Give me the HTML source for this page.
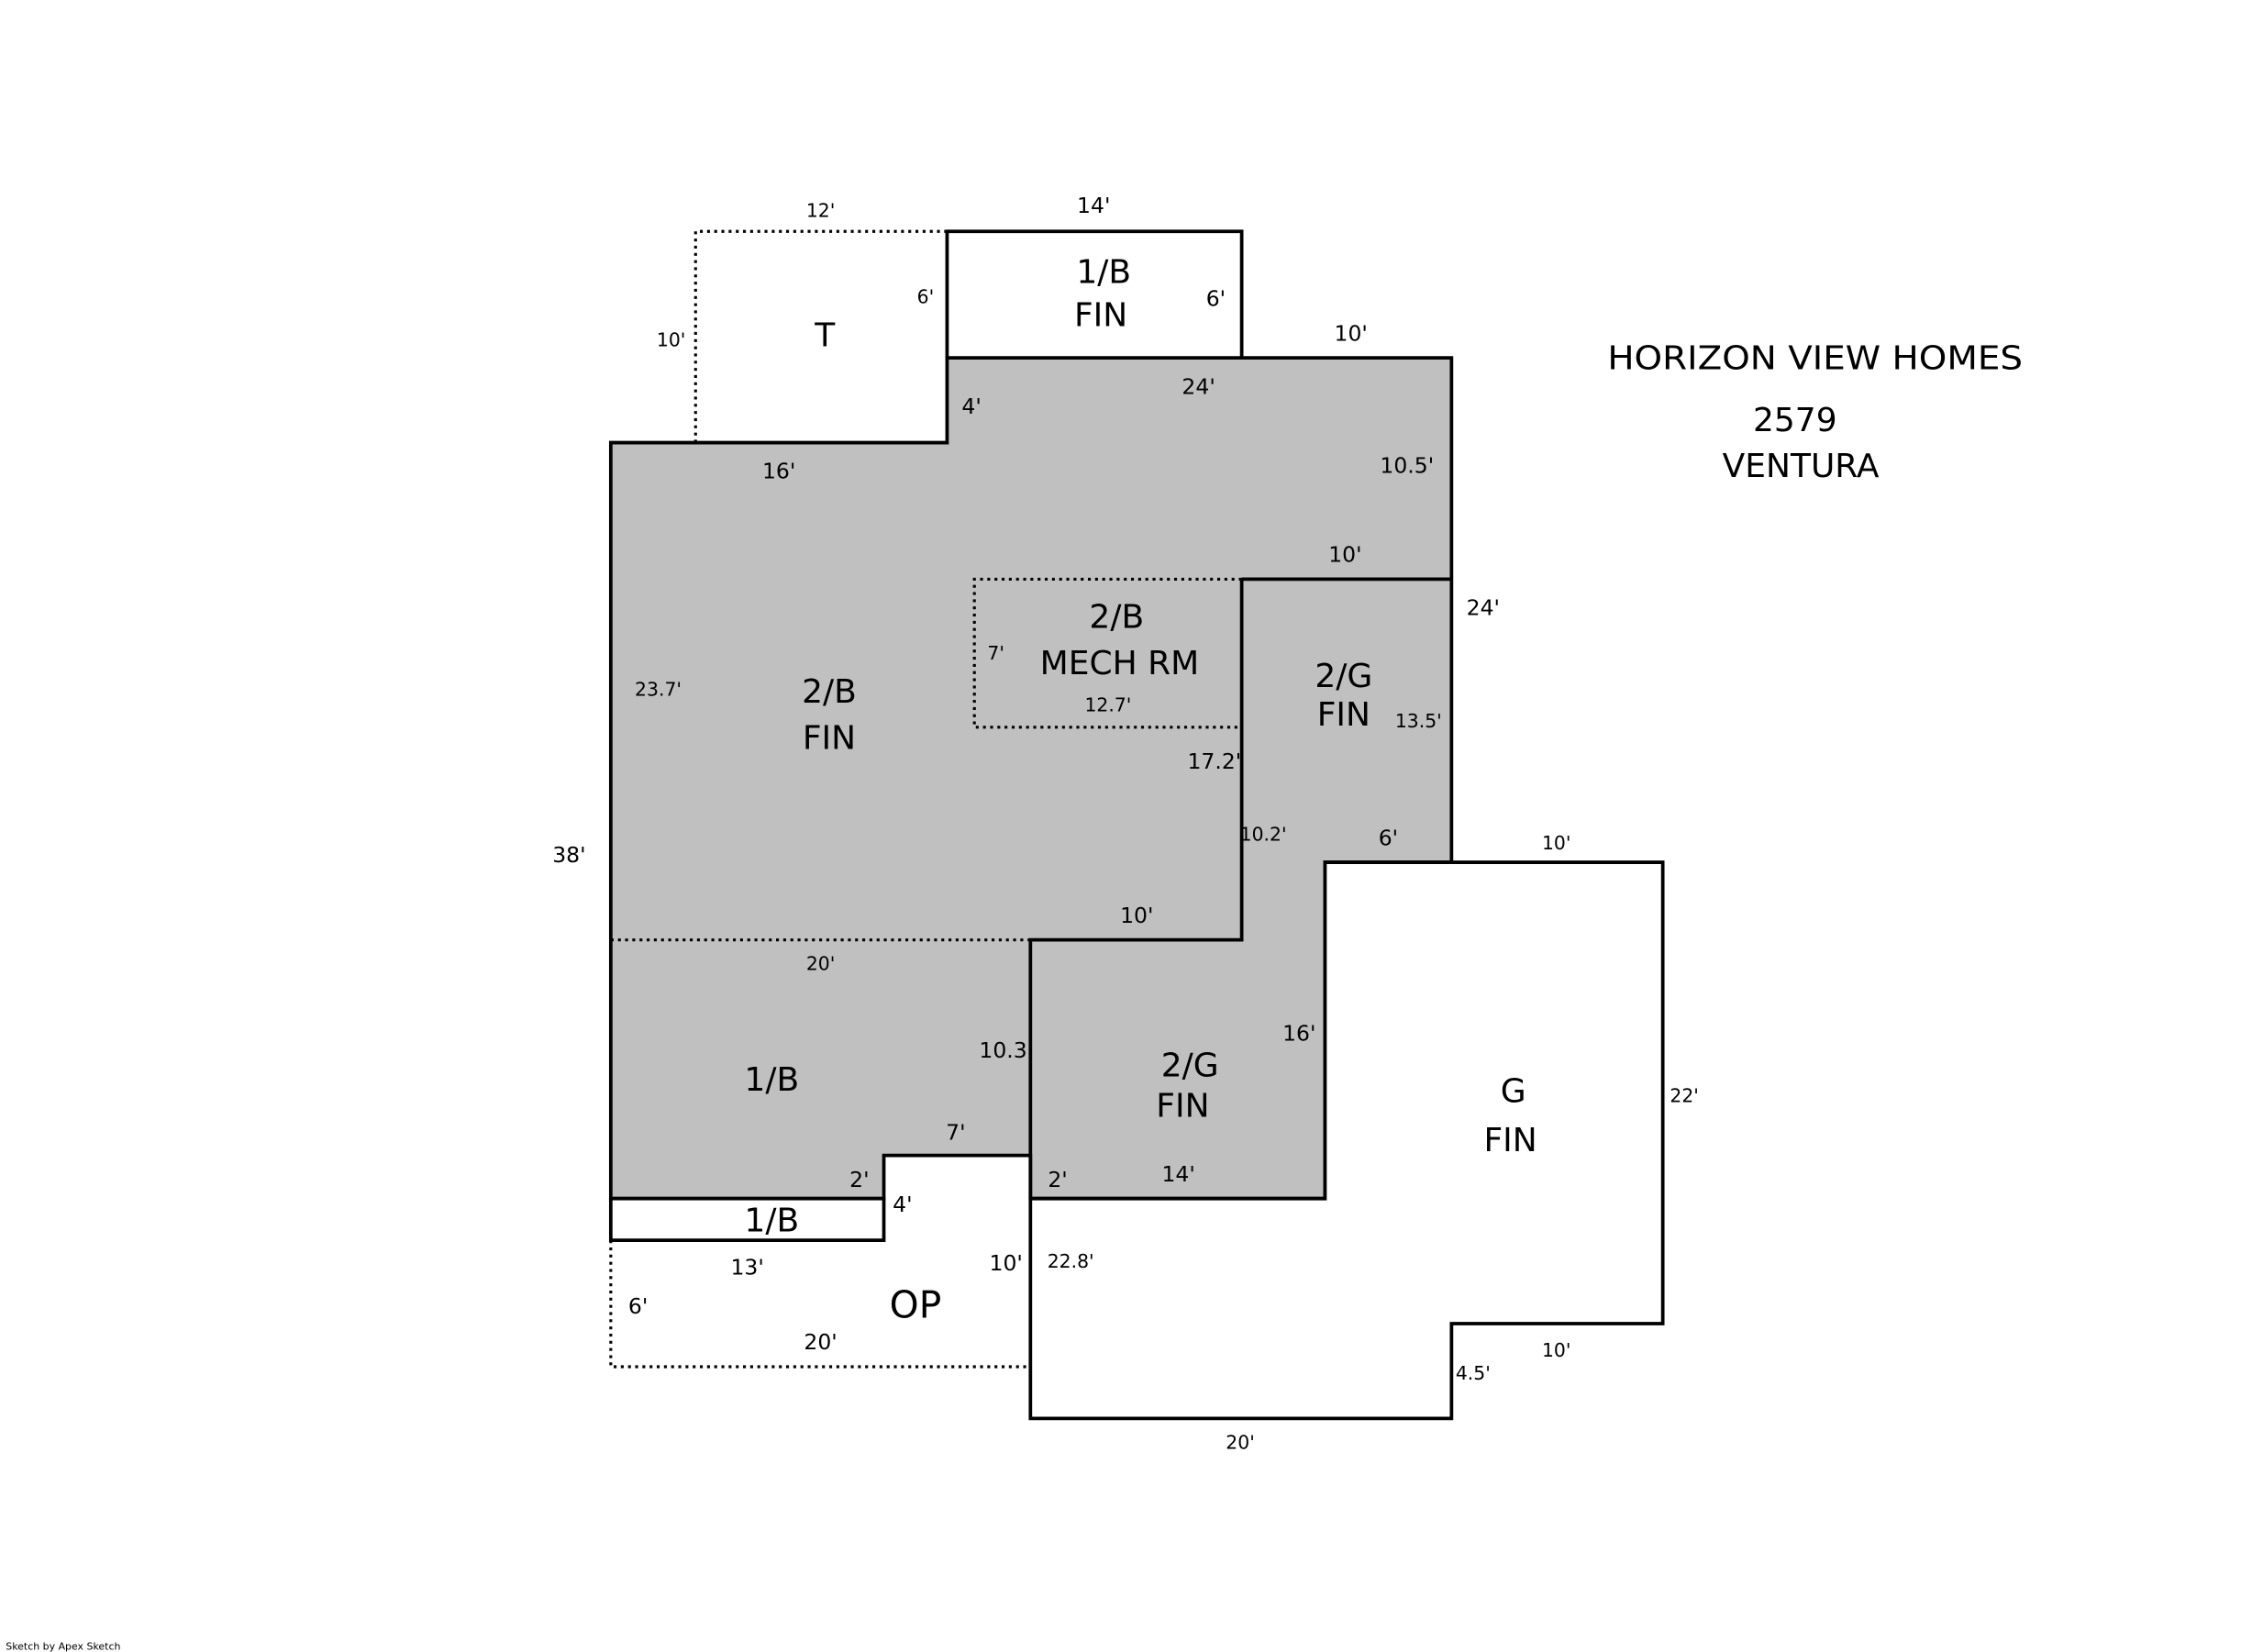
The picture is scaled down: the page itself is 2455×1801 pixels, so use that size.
<!DOCTYPE html>
<html><head><meta charset="utf-8"><style>html,body{margin:0;padding:0;background:#fff}svg{display:block}text{font-family:"DejaVu Sans","Liberation Sans",sans-serif;fill:#000;text-anchor:middle}</style></head>
<body>
<svg width="2455" height="1801" viewBox="0 0 1567 1149.5" preserveAspectRatio="none" xmlns="http://www.w3.org/2000/svg">
<rect width="1600" height="1200" fill="#fff"/>
<g stroke="#000" stroke-width="2.4" fill="none">
<polygon points="425,308 659,308 659,249 1010,249 1010,600 922,600 922,834 717,834 717,804 615,804 615,834 425,834" fill="#c0c0c0"/>
<rect x="659" y="161" width="205" height="88" fill="#fff"/>
<rect x="425" y="834" width="190" height="29" fill="#fff"/>
<polygon points="922,600 1157,600 1157,921 1010,921 1010,987 717,987 717,834 922,834" fill="#fff"/>
<polyline points="864,403 1010,403"/>
<polyline points="864,403 864,654 717,654 717,834"/>
</g>
<g stroke="#000" stroke-width="2" fill="none" stroke-dasharray="2,3">
<polyline points="484,308 484,161 659,161"/>
<polyline points="425,654 717,654"/>
<polyline points="864,403 678,403 678,506 864,506"/>
<polyline points="425,863 425,951 717,951"/>
</g>
<g font-size="13">
<text x="571" y="151">12'</text><text x="644" y="211">6'</text><text x="467" y="241">10'</text>
<text x="693" y="459">7'</text><text x="771" y="495">12.7'</text><text x="987" y="506">13.5'</text>
<text x="458" y="484">23.7'</text><text x="879" y="585">10.2'</text><text x="1083" y="591">10'</text>
<text x="571" y="675">20'</text><text x="1172" y="767">22'</text><text x="745" y="882">22.8'</text>
<text x="1083" y="944">10'</text><text x="1025" y="960">4.5'</text><text x="863" y="1008">20'</text>
</g>
<g font-size="15">
<text x="761" y="148">14'</text><text x="846" y="213">6'</text><text x="940" y="237">10'</text>
<text x="834" y="274">24'</text><text x="676" y="288">4'</text><text x="542" y="333">16'</text>
<text x="979" y="329">10.5'</text><text x="936" y="391">10'</text><text x="1032" y="428">24'</text>
<text x="845" y="535">17.2'</text><text x="966" y="588">6'</text><text x="396" y="600">38'</text>
<text x="791" y="642">10'</text><text x="904" y="724">16'</text><text x="698" y="736">10.3</text>
<text x="665" y="793">7'</text><text x="598" y="826">2'</text><text x="820" y="822">14'</text>
<text x="736" y="826">2'</text><text x="628" y="843">4'</text><text x="520" y="887">13'</text>
<text x="700" y="884">10'</text><text x="444" y="914">6'</text><text x="571" y="939">20'</text>
</g>
<g font-size="23">
<text x="768" y="197">1/B</text><text x="766" y="227">FIN</text><text x="574" y="241">T</text>
<text x="777" y="437">2/B</text><text x="779" y="469">MECH RM</text>
<text x="935" y="478">2/G</text><text x="935" y="505">FIN</text>
<text x="577" y="489">2/B</text><text x="577" y="521">FIN</text>
<text x="828" y="749">2/G</text><text x="823" y="777">FIN</text>
<text x="1053" y="767">G</text><text x="1051" y="801">FIN</text>
<text x="537" y="759">1/B</text><text x="537" y="857">1/B</text>
<text x="637" y="917" font-size="26">OP</text>
<text x="1263" y="257" textLength="289" lengthAdjust="spacingAndGlyphs">HORIZON VIEW HOMES</text>
<text x="1249" y="300">2579</text><text x="1253" y="332">VENTURA</text>
</g>
<text x="4" y="1148" font-size="7" style="text-anchor:start">Sketch by Apex Sketch</text>
</svg>
</body></html>
